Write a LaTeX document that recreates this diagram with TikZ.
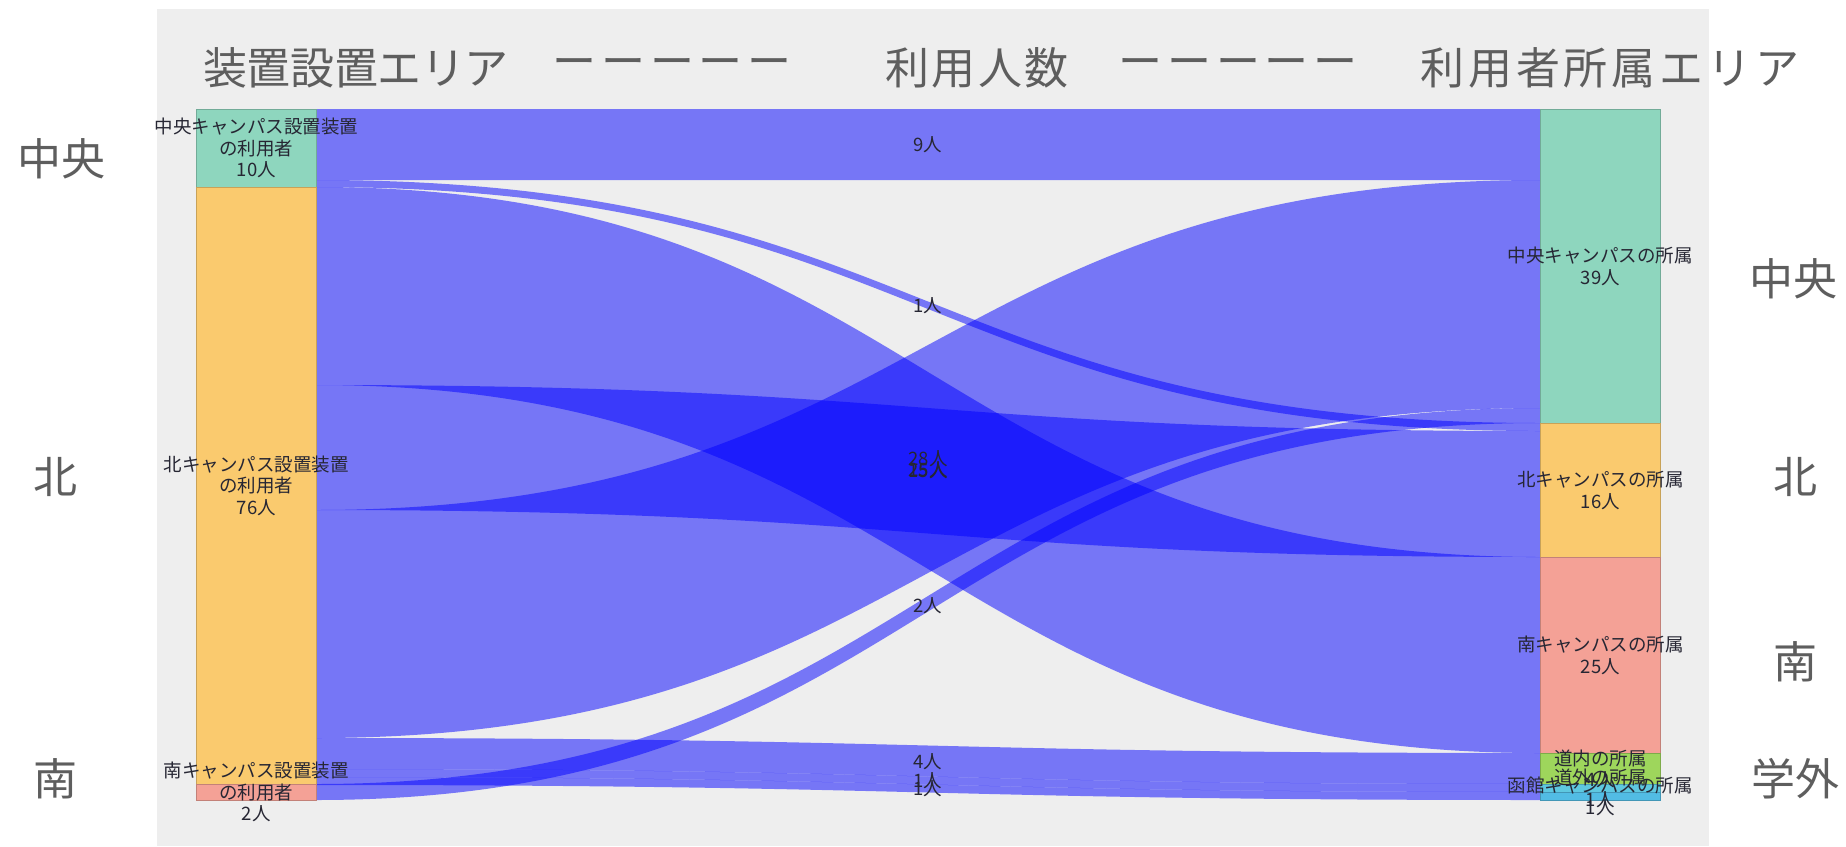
\documentclass[tikz,border=0pt]{standalone}
\usepackage{fontspec}
\setmainfont{Noto Sans CJK JP}
\definecolor{bggray}{HTML}{EEEEEE}
\definecolor{ngreen}{HTML}{8ED6BE}
\definecolor{norange}{HTML}{FACA6E}
\definecolor{npink}{HTML}{F4A196}
\definecolor{nlime}{HTML}{9ED65C}
\definecolor{ncyan}{HTML}{5EC8E0}
\definecolor{nblue}{HTML}{52BCE4}
\definecolor{txtgray}{HTML}{5E5E5E}
\definecolor{txtdark}{HTML}{262633}

% band from left column (316) to right column (1540), plotly style curve
\newcommand\flow[4]{%
  \fill[link] (316,#1) .. controls (928,#1) and (928,#3) .. (1540,#3)
    -- (1540,#4) .. controls (928,#4) and (928,#2) .. (316,#2) -- cycle;}

\begin{document}
\begin{tikzpicture}[x=0.5pt,y=-0.5pt,
    link/.style={blue,fill opacity=0.5},
    box/.style={draw=#1!80!black,fill=#1,line width=0.3pt,inner sep=0pt,
                minimum width=60pt,anchor=north west},
    nlabel/.style={align=center,text=txtdark,inner sep=0pt,
                   font=\fontsize{9.25}{10.75}\selectfont},
    flabel/.style={text=txtdark,inner sep=0pt,font=\fontsize{9.25}{10.75}\selectfont},
    head/.style={text=txtgray,inner sep=0pt,
                 font=\fontsize{22}{26}\selectfont\addfontfeatures{LetterSpace=#1}},
    head/.default=0,
    side/.style={text=txtgray,inner sep=0pt,font=\fontsize{22}{26}\selectfont}]

  \useasboundingbox (0,0) rectangle (1846,846);
  \fill[bggray] (157,9) rectangle (1709,846);

  \node[head=-1]  (hsrc)  at (356,68)  {装置設置エリア};
  \node[head=11]  (hbar1) at (672,68)  {ーーーーー};
  \node[head=5]   (hnum)  at (977,68)  {利用人数};
  \node[head=11]  (hbar2) at (1238,68) {ーーーーー};
  \node[head=9]   (hdst)  at (1610,68) {利用者所属エリア};

  \node[side] (sl1) at (62,159)   {中央};
  \node[side] (sl2) at (55,477)   {北};
  \node[side] (sl3) at (55,779)   {南};
  \node[side] (sr1) at (1793,279) {中央};
  \node[side] (sr2) at (1795,477) {北};
  \node[side] (sr3) at (1795,662) {南};
  \node[side] (sr4) at (1795,779) {学外};

  \flow{109}{180}{109}{180}
  \flow{180}{187}{423}{431}
  \flow{187}{385}{557}{753}
  \flow{385}{510}{431}{557}
  \flow{510}{738}{180}{408}
  \flow{738}{769}{753}{784}
  \flow{769}{777}{784}{792}
  \flow{777}{785}{792}{800}
  \flow{784}{800}{408}{423}

  \node[box=ngreen,  minimum height=39pt]   (lc)  at (196,109)  {};
  \node[box=norange, minimum height=298.5pt] (ln)  at (196,187)  {};
  \node[box=npink,   minimum height=8pt]    (ls)  at (196,784)  {};
  \node[box=ngreen,  minimum height=157pt]  (rc)  at (1540,109) {};
  \node[box=norange, minimum height=67pt]   (rn)  at (1540,423) {};
  \node[box=npink,   minimum height=98pt]   (rs)  at (1540,557) {};
  \node[box=nlime,   minimum height=15.5pt] (rdi) at (1540,753) {};
  \node[box=ncyan,   minimum height=4pt]    (rdo) at (1540,784) {};
  \node[box=nblue,   minimum height=4pt]    (rh)  at (1540,792) {};

  \node[flabel] at (928,145) {9人};
  \node[flabel] at (928,306) {1人};
  \node[flabel] at (928,459) {28人};
  \node[flabel] at (928,470) {25人};
  \node[flabel] at (928,471) {15人};
  \node[flabel] at (928,606) {2人};
  \node[flabel] at (928,762) {4人};
  \node[flabel] at (928,781) {1人};
  \node[flabel] at (928,789) {1人};

  \node[nlabel] at (lc.center)  {中央キャンパス設置装置\\の利用者\\10人};
  \node[nlabel] at (ln.center)  {北キャンパス設置装置\\の利用者\\76人};
  \node[nlabel] at (ls.center)  {南キャンパス設置装置\\の利用者\\2人};
  \node[nlabel] at (rc.center)  {中央キャンパスの所属\\39人};
  \node[nlabel] at (rn.center)  {北キャンパスの所属\\16人};
  \node[nlabel] at (rs.center)  {南キャンパスの所属\\25人};
  \node[nlabel] at (rdi.center) {道内の所属\\4人};
  \node[nlabel] at (rdo.center) {道外の所属\\1人};
  \node[nlabel] at (rh.center)  {函館キャンパスの所属\\1人};
\end{tikzpicture}
\end{document}
